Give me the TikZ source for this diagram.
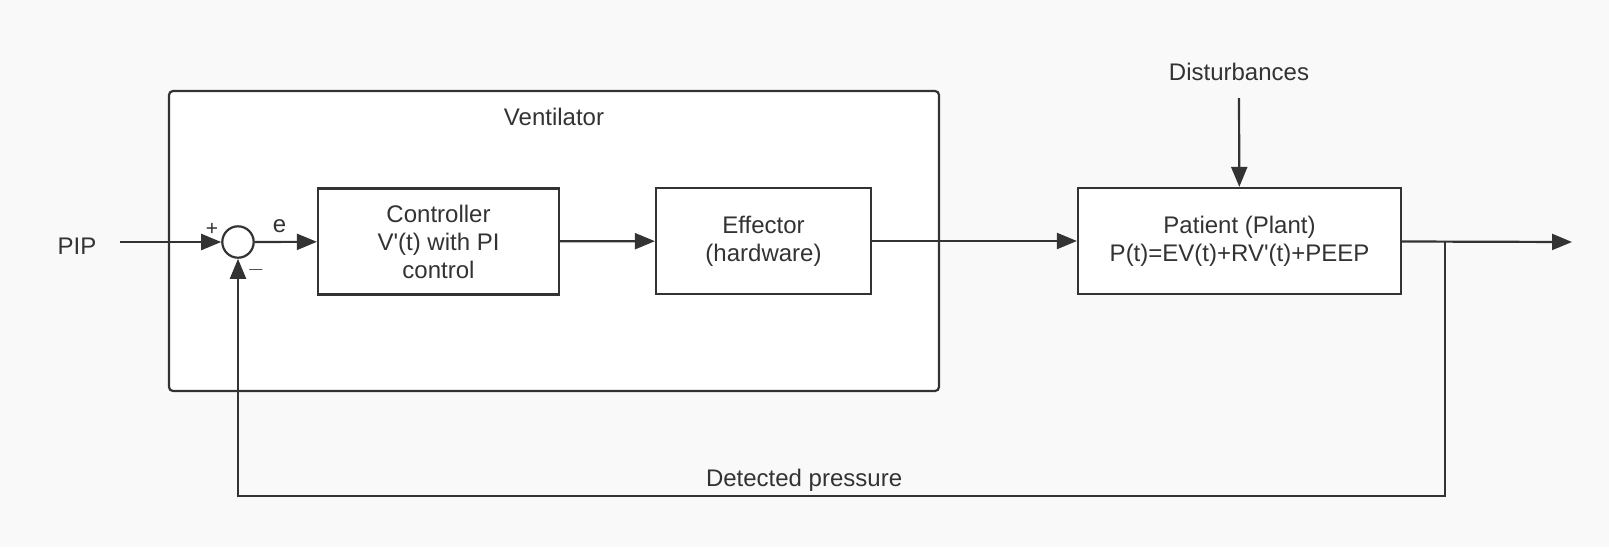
\documentclass[tikz,border=0pt]{standalone}
\usepackage{fontspec}
\setmainfont{Liberation Sans}
\usetikzlibrary{arrows.meta}

\definecolor{linegray}{HTML}{333333}
\definecolor{bggray}{HTML}{F9F9F9}

\tikzset{
  block/.style={draw=linegray, line width=1.1pt, fill=white, align=center,
    text=linegray, inner sep=0pt, font=\fontsize{12}{14}\selectfont},
  label/.style={text=linegray, inner sep=0pt, font=\fontsize{12}{14}\selectfont},
  sign/.style={text=linegray, inner sep=0pt, font=\fontsize{10.5}{12}\selectfont},
  arr/.style={draw=linegray, line width=1.1pt, -{Triangle[length=10pt,width=8pt]}},
  wire/.style={draw=linegray, line width=1.1pt}
}

\begin{document}
\begin{tikzpicture}[x=0.5pt, y=-0.5pt]

% background, fixes the page size
\fill[bggray] (0,0) rectangle (1609,547);
\useasboundingbox (0,0) rectangle (1609,547);

% the ventilator frame
\draw[draw=linegray, line width=1.1pt, fill=white, rounded corners=2pt] (169,91) rectangle (939,391);
\node[label] (vent) at (554,117) {Ventilator};

% input and summing point
\node[label] (pip) at (77,246) {PIP};
\coordinate (pipend) at (120,242);
\node[draw=linegray, line width=1.1pt, fill=white, circle, minimum size=15.7pt, inner sep=0pt] (sum) at (238,242) {};
\node[sign] at (212,229) {+};
\node[sign] at (256,270) {$-$};

% the blocks
\node[block, minimum width=120.5pt, minimum height=53pt] (ctrl) at (438.5,241.5) {Controller\\V\textquotesingle(t) with PI\\control};
\node[block, minimum width=107.5pt, minimum height=53pt] (eff) at (763.5,241) {Effector\\(hardware)};
\node[block, minimum width=161.5pt, minimum height=53pt] (patient) at (1239.5,241) {Patient (Plant)\\P(t)=EV(t)+RV\textquotesingle(t)+PEEP};

% disturbances
\node[label] (dist) at (1239,72) {Disturbances};
\coordinate (distend) at (1239,98);

% output and feedback corners
\coordinate (branch) at (1445,242);
\coordinate (out) at (1572,242);
\coordinate (fb) at (1445,496);

% forward path
\draw[arr] (pipend) -- (sum);
\draw[arr] (sum) -- node[label, above=4pt, pos=0.4] {e} (ctrl);
\draw[arr] (ctrl) -- (eff);
\draw[arr] (eff) -- (patient);
\draw[arr] (patient) -- (out);
\draw[arr] (distend) -- (patient);

% feedback path
\draw[arr] (branch) -- (fb) -| node[label, pos=0.2655, above=1.5pt] {Detected pressure} (sum.south);

\end{tikzpicture}
\end{document}
